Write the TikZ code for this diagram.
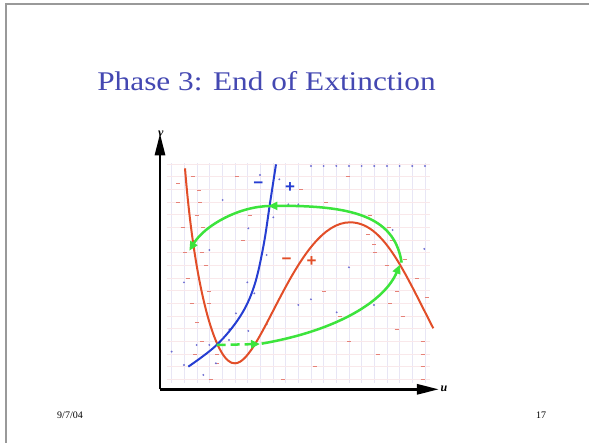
\documentclass[tikz,border=0pt]{standalone}
\usepackage{fontspec}
\setmainfont{Liberation Serif}
\newfontfamily\signfont{Liberation Sans}
\usetikzlibrary{arrows.meta}
\definecolor{titleblue}{RGB}{68,72,178}
\definecolor{nullred}{RGB}{226,78,40}
\definecolor{nullblue}{RGB}{38,62,210}
\definecolor{trajgreen}{RGB}{60,228,60}
\definecolor{gridpink}{RGB}{249,232,234}
\definecolor{gridlav}{RGB}{232,230,245}
\definecolor{markred}{RGB}{230,130,120}
\definecolor{markblue}{RGB}{110,110,210}
\tikzset{
  slideborder/.style={draw=gray!80, line width=1.4pt},
  titlestyle/.style={font=\fontsize{27}{27}\selectfont, text=titleblue, inner sep=0pt, anchor=base, xscale=1.16},
  footstyle/.style={font=\fontsize{10}{10}\selectfont, inner sep=0pt, anchor=base},
  axisline/.style={line width=2.8pt, black},
  axtipv/.style={-{Triangle[length=22pt,width=10pt]}},
  axlabel/.style={font=\fontsize{12}{12}\selectfont\bfseries\itshape, inner sep=0pt},
  gridv/.style={draw=gridlav, line width=0.5pt},
  gridh/.style={draw=gridpink, line width=0.5pt},
  redmark/.style={draw=markred, line width=0.9pt},
  bluemark/.style={fill=markblue},
  rednull/.style={draw=nullred, line width=2pt},
  bluenull/.style={draw=nullblue, line width=2pt},
  traj/.style={draw=trajgreen, line width=2.5pt, -{Triangle[length=9pt,width=8pt]}},
  signlabel/.style={font=\fontsize{17}{17}\selectfont\signfont\bfseries, inner sep=0pt}
}
\begin{document}
\begin{tikzpicture}[x=1pt,y=-1pt]
\useasboundingbox (0,0) rectangle (589,442);
\fill[white] (0,0) rectangle (589,442);
\draw[slideborder] (6,443) -- (6,4) -- (590,4);
\node[titlestyle] (title) at (266.5,90.5) {Phase 3: End of Extinction};
\node[footstyle] (date) at (70,418) {9/7/04};
\node[footstyle] (page) at (541,418) {17};

\begin{scope}[shift={(140,120)}, x=0.3333pt, y=-0.3333pt]
  % grid
  \foreach \gx in {95,133,...,860} \draw[gridv] (\gx,130) -- (\gx,790);
  \foreach \gy in {132,170,...,790} \draw[gridh] (80,\gy) -- (870,\gy);
  % red direction marks
  \foreach \mx/\my in {115/190,160/170,178/210,115/247,180/247,292/170,170/285,128/323,190/323,135/398,185/398,330/285,310/360,198/437,145/475,208/513,155/550,208/550,172/607,185/665,165/702,232/702,230/730,212/777,430/777,625/170,482/208,558/247,690/285,748/323,685/342,755/360,703/372,705/398,795/418,740/437,832/475,860/532,772/513,553/513,750/550,790/588,600/590,770/627,628/663,848/663,715/702,848/702,525/740,848/740,848/777}
    \draw[redmark] (\mx-6,\my) -- (\mx+6,\my);
  % blue direction marks
  \foreach \mx in {513,551,...,860} \fill[bluemark] (\mx,138) circle (3.2);
  \foreach \mx/\my in {360/165,418/178,248/240,325/325,208/390,400/292,380/405,445/253,475/253,758/330,853/387,627/442,513/538,475/555,590/577,702/555,132/487,322/487,343/520,288/580,325/633,268/628,380/613,170/675,208/675,267/660,228/730,132/735,190/765,95/695}
    \fill[bluemark] (\mx,\my) circle (3.2);

  % axes
  \coordinate (o) at (60,808);
  \coordinate (vt) at (60,40);
  \coordinate (ut) at (897,808);
  \draw[axisline, axtipv] (o) -- (vt);
  \draw[axisline, axtipv] (o) -- (ut);
  \node[axlabel] (vlab) at (62,40) {v};
  \node[axlabel] (ulab) at (912,808) {u};

  % nullclines
  \draw[rednull] (135,145) .. controls (165,520) and (230,735) .. (285,730)
                 .. controls (365,730) and (470,307) .. (630,307)
                 .. controls (730,307) and (790,450) .. (880,625);
  \draw[bluenull] plot[smooth, tension=0.6] coordinates {(145,740) (230,675) (300,590) (342,500) (370,380) (390,250) (408,133)};

  % sign labels
  \node[signlabel, text=nullblue] (bm) at (355,197) {−};
  \node[signlabel, text=nullblue] (bp) at (450,203) {+};
  \node[signlabel, text=nullred] (rm) at (440,425) {−};
  \node[signlabel, text=nullred] (rp) at (515,425) {+};

  % trajectory
  \coordinate (g0) at (230,675);
  \coordinate (g1) at (360,672);
  \coordinate (g1b) at (365,671);
  \coordinate (g2) at (780,434);
  \coordinate (g2b) at (785,428);
  \coordinate (g3) at (385,258);
  \coordinate (g3b) at (392,258);
  \coordinate (g4) at (148,392);
  \draw[traj, dashed, dash pattern=on 9pt off 5pt] (g0) -- (g1);
  \draw[traj] (g1b) .. controls (600,630) and (735,540) .. (g2);
  \draw[traj] (g2b) .. controls (765,300) and (660,255) .. (g3);
  \draw[traj] (g3b) .. controls (300,258) and (195,315) .. (g4);
\end{scope}
\end{tikzpicture}
\end{document}
